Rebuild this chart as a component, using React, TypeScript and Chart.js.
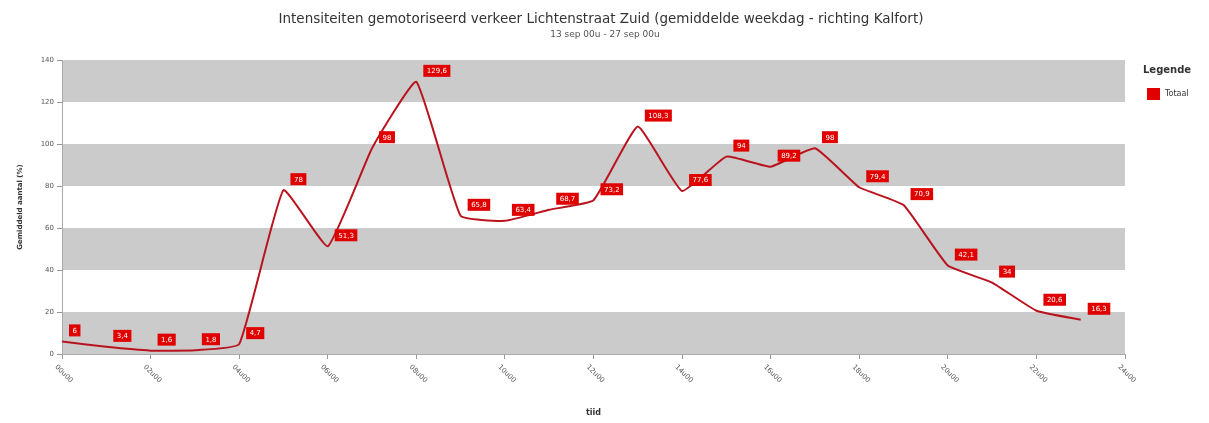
import React, { useEffect, useRef } from "react";
import { Chart, registerables } from "chart.js";

Chart.register(...registerables);

// Hourly profile for an average weekday (hour of day -> share in %)
const hours = [0, 1, 2, 3, 4, 5, 6, 7, 8, 9, 10, 11, 12, 13, 14, 15, 16, 17, 18, 19, 20, 21, 22, 23];
const totaal = [6, 3.4, 1.6, 1.8, 4.7, 78, 51.3, 98, 129.6, 65.8, 63.4, 68.7, 73.2, 108.3, 77.6, 94, 89.2, 98, 79.4, 70.9, 42.1, 34, 20.6, 16.3];
const xTickLabels = ["00u00", "02u00", "04u00", "06u00", "08u00", "10u00", "12u00", "14u00", "16u00", "18u00", "20u00", "22u00", "24u00"];
const yTicks = [0, 20, 40, 60, 80, 100, 120, 140];

const titleText = "Intensiteiten gemotoriseerd verkeer Lichtenstraat Zuid (gemiddelde weekdag - richting Kalfort)";
const subtitleText = "13 sep 00u - 27 sep 00u";
const yTitle = "Gemiddeld aantal (%)";
const xTitle = "tijd";
const legendTitle = "Legende";
const seriesName = "Totaal";

const FONT = "'DejaVu Sans', Verdana, sans-serif";
const LINE_COLOR = "rgb(185,20,30)";
const BOX_COLOR = "rgb(225,0,0)";
const BAND_COLOR = "#cbcbcb";

const fmt = (v: number) => String(v).replace(".", ",");

const decorations = {
  id: "decorations",
  beforeDatasetsDraw(chart: any) {
    const { ctx, chartArea } = chart;
    const y = chart.scales.y;
    ctx.save();
    ctx.fillStyle = BAND_COLOR;
    for (let i = 0; i < yTicks.length - 1; i += 2) {
      const top = y.getPixelForValue(yTicks[i + 1]);
      const bottom = y.getPixelForValue(yTicks[i]);
      ctx.fillRect(chartArea.left + 1, top, chartArea.right - chartArea.left - 1, bottom - top);
    }
    ctx.restore();
  },
  afterDatasetsDraw(chart: any) {
    const { ctx } = chart;
    const meta = chart.getDatasetMeta(0);
    ctx.save();
    ctx.font = `7px ${FONT}`;
    ctx.textBaseline = "middle";
    ctx.textAlign = "center";
    meta.data.forEach((pt: any, i: number) => {
      const label = fmt(totaal[i]);
      const w = ctx.measureText(label).width + 7;
      const h = 12;
      const left = pt.x + 7;
      const bottom = pt.y - 5;
      ctx.fillStyle = BOX_COLOR;
      ctx.fillRect(left, bottom - h, w, h);
      ctx.fillStyle = "#ffffff";
      ctx.fillText(label, left + w / 2, bottom - h / 2 + 0.5);
    });
    ctx.restore();
  },
  afterDraw(chart: any) {
    const { ctx, chartArea } = chart;
    const x = chart.scales.x;
    ctx.save();
    ctx.fillStyle = "#333";
    ctx.textAlign = "center";
    ctx.textBaseline = "middle";
    ctx.font = `13.5px ${FONT}`;
    ctx.fillText(titleText, 593, 11);
    ctx.font = `9px ${FONT}`;
    ctx.fillStyle = "#555";
    ctx.fillText(subtitleText, 597, 27);

    // rotated hour labels under the time axis
    ctx.fillStyle = "#555";
    ctx.font = `7px ${FONT}`;
    ctx.textAlign = "left";
    xTickLabels.forEach((lab, i) => {
      const px = x.getPixelForValue(i * 2);
      ctx.save();
      ctx.translate(px - 6, chartArea.bottom + 12);
      ctx.rotate(Math.PI / 4);
      ctx.fillText(lab, 0, 0);
      ctx.restore();
    });

    // axis titles
    ctx.fillStyle = "#333";
    ctx.font = `bold 8px ${FONT}`;
    ctx.textAlign = "center";
    ctx.fillText(xTitle, (chartArea.left + chartArea.right) / 2, 405);
    ctx.save();
    ctx.translate(12, 199);
    ctx.rotate(-Math.PI / 2);
    ctx.font = `bold 7px ${FONT}`;
    ctx.fillText(yTitle, 0, 0);
    ctx.restore();

    // legend
    ctx.textAlign = "left";
    ctx.font = `bold 10px ${FONT}`;
    ctx.fillText(legendTitle, 1135, 62);
    ctx.fillStyle = BOX_COLOR;
    ctx.fillRect(1139, 80, 13, 12);
    ctx.fillStyle = "#333";
    ctx.font = `8px ${FONT}`;
    ctx.fillText(seriesName, 1157, 86);
    ctx.restore();
  },
};

export default function App() {
  const canvasRef = useRef<HTMLCanvasElement | null>(null);

  useEffect(() => {
    if (!canvasRef.current) return;
    const chart = new Chart(canvasRef.current, {
      type: "line",
      data: {
        datasets: [
          {
            label: seriesName,
            data: hours.map((h, i) => ({ x: h, y: totaal[i] })),
            borderColor: LINE_COLOR,
            borderWidth: 2,
            pointRadius: 0,
            fill: false,
            tension: 0.12,
          },
        ],
      },
      options: {
        responsive: false,
        animation: false,
        layout: { padding: { top: 52, right: 76, bottom: 0, left: 0 } },
        plugins: {
          legend: { display: false },
          title: { display: false },
          tooltip: { enabled: false },
        },
        scales: {
          x: {
            type: "linear",
            min: 0,
            max: 24,
            ticks: { stepSize: 2, display: false },
            grid: { drawOnChartArea: false, drawTicks: true, tickLength: 5, color: "#999" },
            border: { color: "#aaa" },
            afterFit: (scale: any) => {
              scale.height = 69;
            },
          },
          y: {
            min: 0,
            max: 140,
            ticks: {
              stepSize: 20,
              color: "#555",
              font: { size: 7, family: FONT },
              padding: 3,
            },
            grid: { drawOnChartArea: false, drawTicks: true, tickLength: 5, color: "#999" },
            border: { color: "#aaa" },
            afterFit: (scale: any) => {
              scale.width = 54;
            },
          },
        },
      },
      plugins: [decorations],
    });
    return () => chart.destroy();
  }, []);

  return (
    <div style={{ width: 1193, height: 415, marginBottom: -8 }}>
      <canvas ref={canvasRef} width={1193} height={415} style={{ display: "block" }} />
    </div>
  );
}
